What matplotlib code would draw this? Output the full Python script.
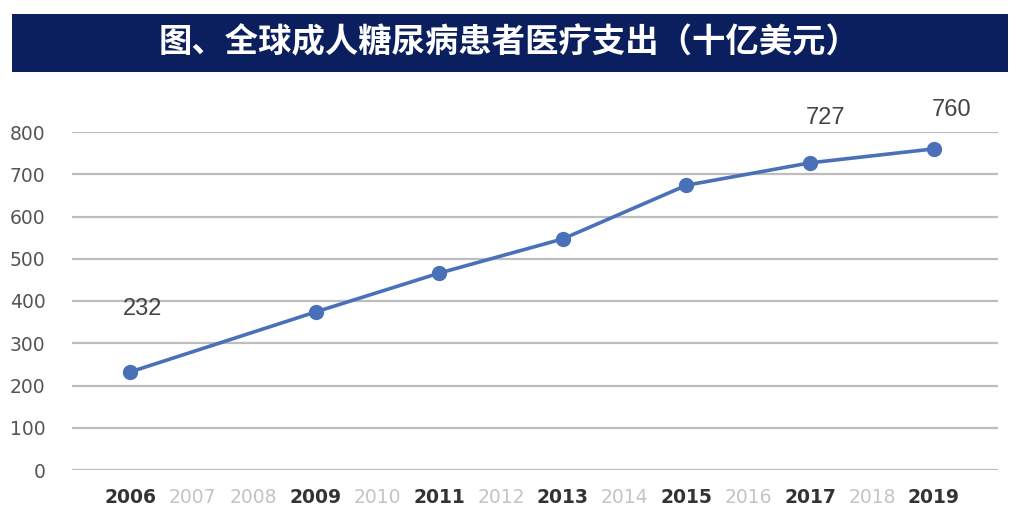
import matplotlib.pyplot as plt
import numpy as np
from matplotlib.patches import Rectangle

# 年份（全部刻度）与有数据的年份
years = ["2006", "2007", "2008", "2009", "2010", "2011", "2012",
         "2013", "2014", "2015", "2016", "2017", "2018", "2019"]
data_years = ["2006", "2009", "2011", "2013", "2015", "2017", "2019"]
spend = [232, 374, 466, 547, 674, 727, 760]
labelled = ["2006", "2017", "2019"]
label_offsets = {"2006": (9, 45), "2017": (11, 32), "2019": (13, 28)}
y_ticks = [0, 100, 200, 300, 400, 500, 600, 700, 800]

TITLE = "图、全球成人糖尿病患者医疗支出（十亿美元）"
NAVY = "#0b1f5e"
LINE = "#4a70b8"

plt.rcParams["font.family"] = ["DejaVu Sans"]

fig = plt.figure(figsize=(10.29, 5.24), dpi=100)
fig.patch.set_facecolor("white")

# 标题横幅
fig.patches.append(Rectangle((12 / 1029, 1 - 72 / 524), 996 / 1029, 58 / 524,
                             transform=fig.transFigure, facecolor=NAVY,
                             edgecolor="none", zorder=0))
fig.text(509 / 1029, 1 - 43 / 524, TITLE, ha="center", va="center",
         color="white", fontsize=24, fontweight="bold",
         family=["Noto Sans CJK SC", "DejaVu Sans"])

ax = fig.add_axes([72 / 1029, 1 - 470 / 524, 926 / 1029, 338 / 524])
idx = {y: i for i, y in enumerate(years)}
xs = np.array([idx[y] for y in data_years])

ax.plot(xs, spend, color=LINE, linewidth=2.6, marker="o", markersize=10,
        zorder=3, clip_on=False)

for y in labelled:
    v = spend[data_years.index(y)]
    ax.annotate(str(v), (idx[y], v), xytext=label_offsets[y],
                textcoords="offset points", ha="center", va="center",
                fontsize=17, color="#444444",
                family=["Liberation Sans", "DejaVu Sans"])

ax.set_ylim(0, 800)
ax.set_xlim(-0.94, 14.04)
ax.set_yticks(y_ticks)
ax.yaxis.grid(True, color="#bdbdbd", linewidth=1.6)
ax.set_axisbelow(True)
for s in ax.spines.values():
    s.set_visible(False)
ax.tick_params(axis="y", length=0, pad=19, labelsize=13.5, labelcolor="#555555")
ax.tick_params(axis="x", length=0, pad=13, labelsize=13.5)

ax.set_xticks(range(len(years)))
ax.set_xticklabels(years)
for lab in ax.get_xticklabels():
    if lab.get_text() in data_years:
        lab.set_color("#333333")
        lab.set_fontweight("bold")
    else:
        lab.set_color("#c4c4c4")

fig.savefig("out.png", dpi=100)
